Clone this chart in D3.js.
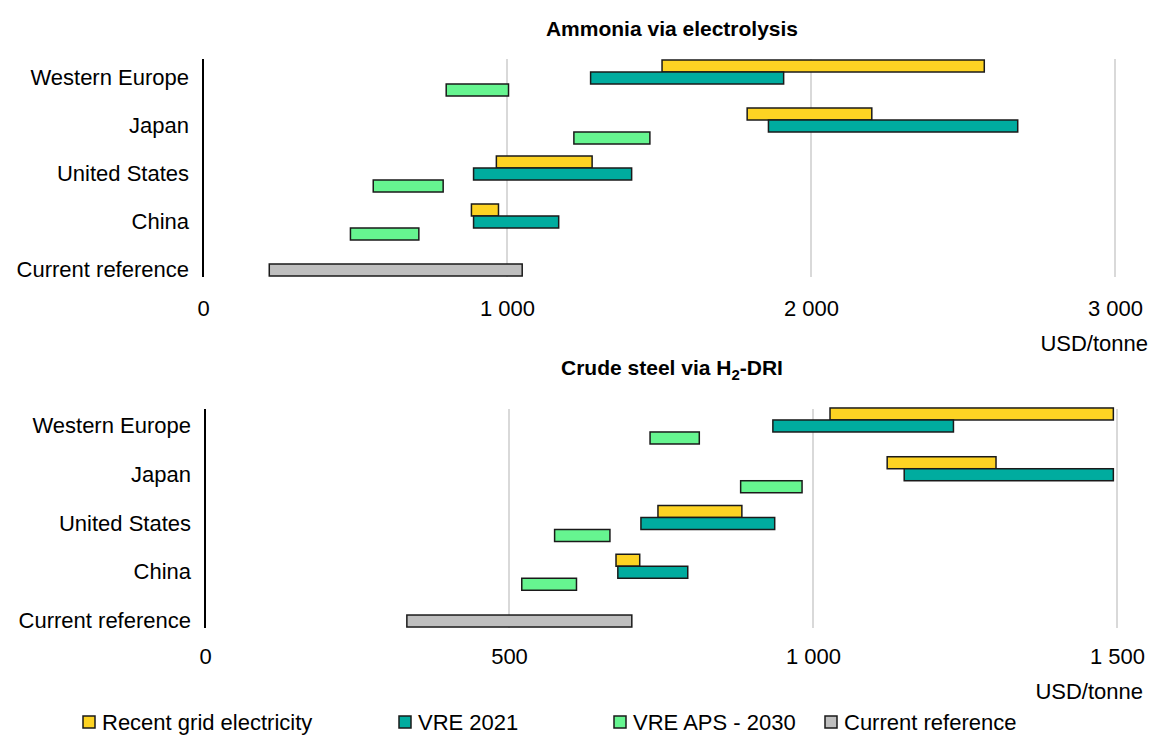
<!DOCTYPE html>
<html>
<head>
<meta charset="utf-8">
<script src="https://cdn.jsdelivr.net/npm/d3@7"></script>
<style>
  body { margin: 0; background: #fff; }
  text { font-family: "Liberation Sans", Arial, sans-serif; fill: #000; }
</style>
</head>
<body>
<div id="chart"></div>
<script>
// Categories and series
var categories = ["Western Europe", "Japan", "United States", "China", "Current reference"];
var seriesNames = ["Recent grid electricity", "VRE 2021", "VRE APS - 2030", "Current reference"];
var seriesColors = ["#fdd323", "#00ac9f", "#66f590", "#bfbfbf"];

// Ammonia via electrolysis, USD/tonne ranges [low, high]
var ammoniaGrid    = [[1510, 2570], [1790, 2200], [965, 1280], [883, 972], null];
var ammoniaVre2021 = [[1275, 1910], [1860, 2680], [890, 1410], [890, 1170], null];
var ammoniaVreAps  = [[800, 1005], [1220, 1470], [560, 790], [485, 710], null];
var ammoniaCurrent = [null, null, null, null, [218, 1050]];
var ammoniaTicks = [0, 1000, 2000, 3000];

// Crude steel via H2-DRI, USD/tonne ranges [low, high]
var steelGrid    = [[1028, 1494], [1122, 1301], [745, 883], [676, 715], null];
var steelVre2021 = [[934, 1231], [1150, 1494], [717, 937], [679, 794], null];
var steelVreAps  = [[732, 813], [881, 982], [575, 666], [521, 611], null];
var steelCurrent = [null, null, null, null, [332, 702]];
var steelTicks = [0, 500, 1000, 1500];

var svg = d3.select("#chart")
    .append("svg")
    .attr("width", 1150)
    .attr("height", 735);

var fmt = d3.formatLocale({decimal: ".", thousands: "\u00a0", grouping: [3], currency: ["", ""]}).format(",");

function drawPanel(p) {
    var g = svg.append("g");

    var xScale = d3.scaleLinear()
        .domain([0, p.ticks[p.ticks.length - 1]])
        .range([p.left, p.right]);

    var yScale = d3.scaleBand()
        .domain(categories)
        .range([p.top, p.bottom])
        .padding(0);

    // gridlines
    g.selectAll(".grid")
        .data(p.ticks.filter(d => d > 0))
        .enter()
        .append("line")
        .attr("x1", d => xScale(d))
        .attr("x2", d => xScale(d))
        .attr("y1", p.lineTop)
        .attr("y2", p.lineBottom)
        .attr("stroke", "#d9d9d9")
        .attr("stroke-width", 2);

    // bars: series index -> slot in the group (top, middle, bottom)
    var slots = [0, 1, 2, 1];
    var rows = [];
    p.series.forEach(function(values, s) {
        values.forEach(function(v, i) {
            if (v) rows.push({cat: categories[i], slot: slots[s], lo: v[0], hi: v[1], color: seriesColors[s]});
        });
    });

    var barH = 12;
    var inner = d3.scaleBand().domain([0, 1, 2]).range([0, barH * 3]);

    g.selectAll(".bar")
        .data(rows)
        .enter()
        .append("rect")
        .attr("x", d => xScale(d.lo))
        .attr("width", d => xScale(d.hi) - xScale(d.lo))
        .attr("y", d => yScale(d.cat) + yScale.bandwidth() / 2 - barH * 1.5 + inner(d.slot))
        .attr("height", barH)
        .attr("fill", d => d.color)
        .attr("stroke", "#1a1a1a")
        .attr("stroke-width", 1.5);

    // y axis line
    g.append("line")
        .attr("x1", p.left).attr("x2", p.left)
        .attr("y1", p.lineTop).attr("y2", p.lineBottom)
        .attr("stroke", "#000")
        .attr("stroke-width", 2);

    // category labels
    var leftAxis = d3.axisLeft(yScale).tickSize(0).tickPadding(14);
    var ly = g.append("g").attr("transform", `translate(${p.left}, 0)`).call(leftAxis);
    ly.select(".domain").remove();
    ly.selectAll("text")
        .attr("font-size", "22px")
        .attr("font-family", "Liberation Sans, Arial, sans-serif")
        .attr("fill", "#000");

    // x axis labels
    var bottomAxis = d3.axisBottom(xScale).tickValues(p.ticks).tickFormat(fmt).tickSize(0).tickPadding(0);
    var lx = g.append("g").attr("transform", `translate(0, ${p.tickY})`).call(bottomAxis);
    lx.select(".domain").remove();
    lx.selectAll("text")
        .attr("font-size", "22px")
        .attr("font-family", "Liberation Sans, Arial, sans-serif")
        .attr("fill", "#000");

    // unit label
    g.append("text")
        .attr("x", p.unitX)
        .attr("y", p.unitY)
        .attr("text-anchor", "end")
        .attr("font-size", "22px")
        .text("USD/tonne");

    // title
    var t = g.append("text")
        .attr("x", 672)
        .attr("y", p.titleY)
        .attr("text-anchor", "middle")
        .attr("font-size", "21px")
        .attr("font-weight", "bold");
    p.title.forEach(function(part) {
        var ts = t.append("tspan").text(part.text);
        if (part.sub) ts.attr("font-size", "15px").attr("dy", "5");
        else if (part.after) ts.attr("dy", "-5");
    });
}

drawPanel({
    title: [{text: "Ammonia via electrolysis"}],
    titleY: 36,
    series: [ammoniaGrid, ammoniaVre2021, ammoniaVreAps, ammoniaCurrent],
    ticks: ammoniaTicks,
    left: 203, right: 1115,
    top: 54, bottom: 294,
    lineTop: 59, lineBottom: 277,
    tickY: 300,
    unitX: 1148, unitY: 351
});

drawPanel({
    title: [{text: "Crude steel via H"}, {text: "2", sub: true}, {text: "-DRI", after: true}],
    titleY: 375,
    series: [steelGrid, steelVre2021, steelVreAps, steelCurrent],
    ticks: steelTicks,
    left: 205, right: 1117,
    top: 401.6, bottom: 645.4,
    lineTop: 409, lineBottom: 628,
    tickY: 648,
    unitX: 1143, unitY: 699
});

// legend
var legendX = [83, 399, 614, 825];
var legend = svg.append("g");
var items = legend.selectAll(".item")
    .data(seriesNames)
    .enter()
    .append("g")
    .attr("transform", (d, i) => `translate(${legendX[i]}, 716)`);

items.append("rect")
    .attr("width", 12)
    .attr("height", 12)
    .attr("fill", (d, i) => seriesColors[i])
    .attr("stroke", "#1a1a1a")
    .attr("stroke-width", 1.5);

items.append("text")
    .attr("x", 19)
    .attr("y", 6)
    .attr("dy", "0.35em")
    .attr("font-size", "22px")
    .text(d => d);
</script>
</body>
</html>
